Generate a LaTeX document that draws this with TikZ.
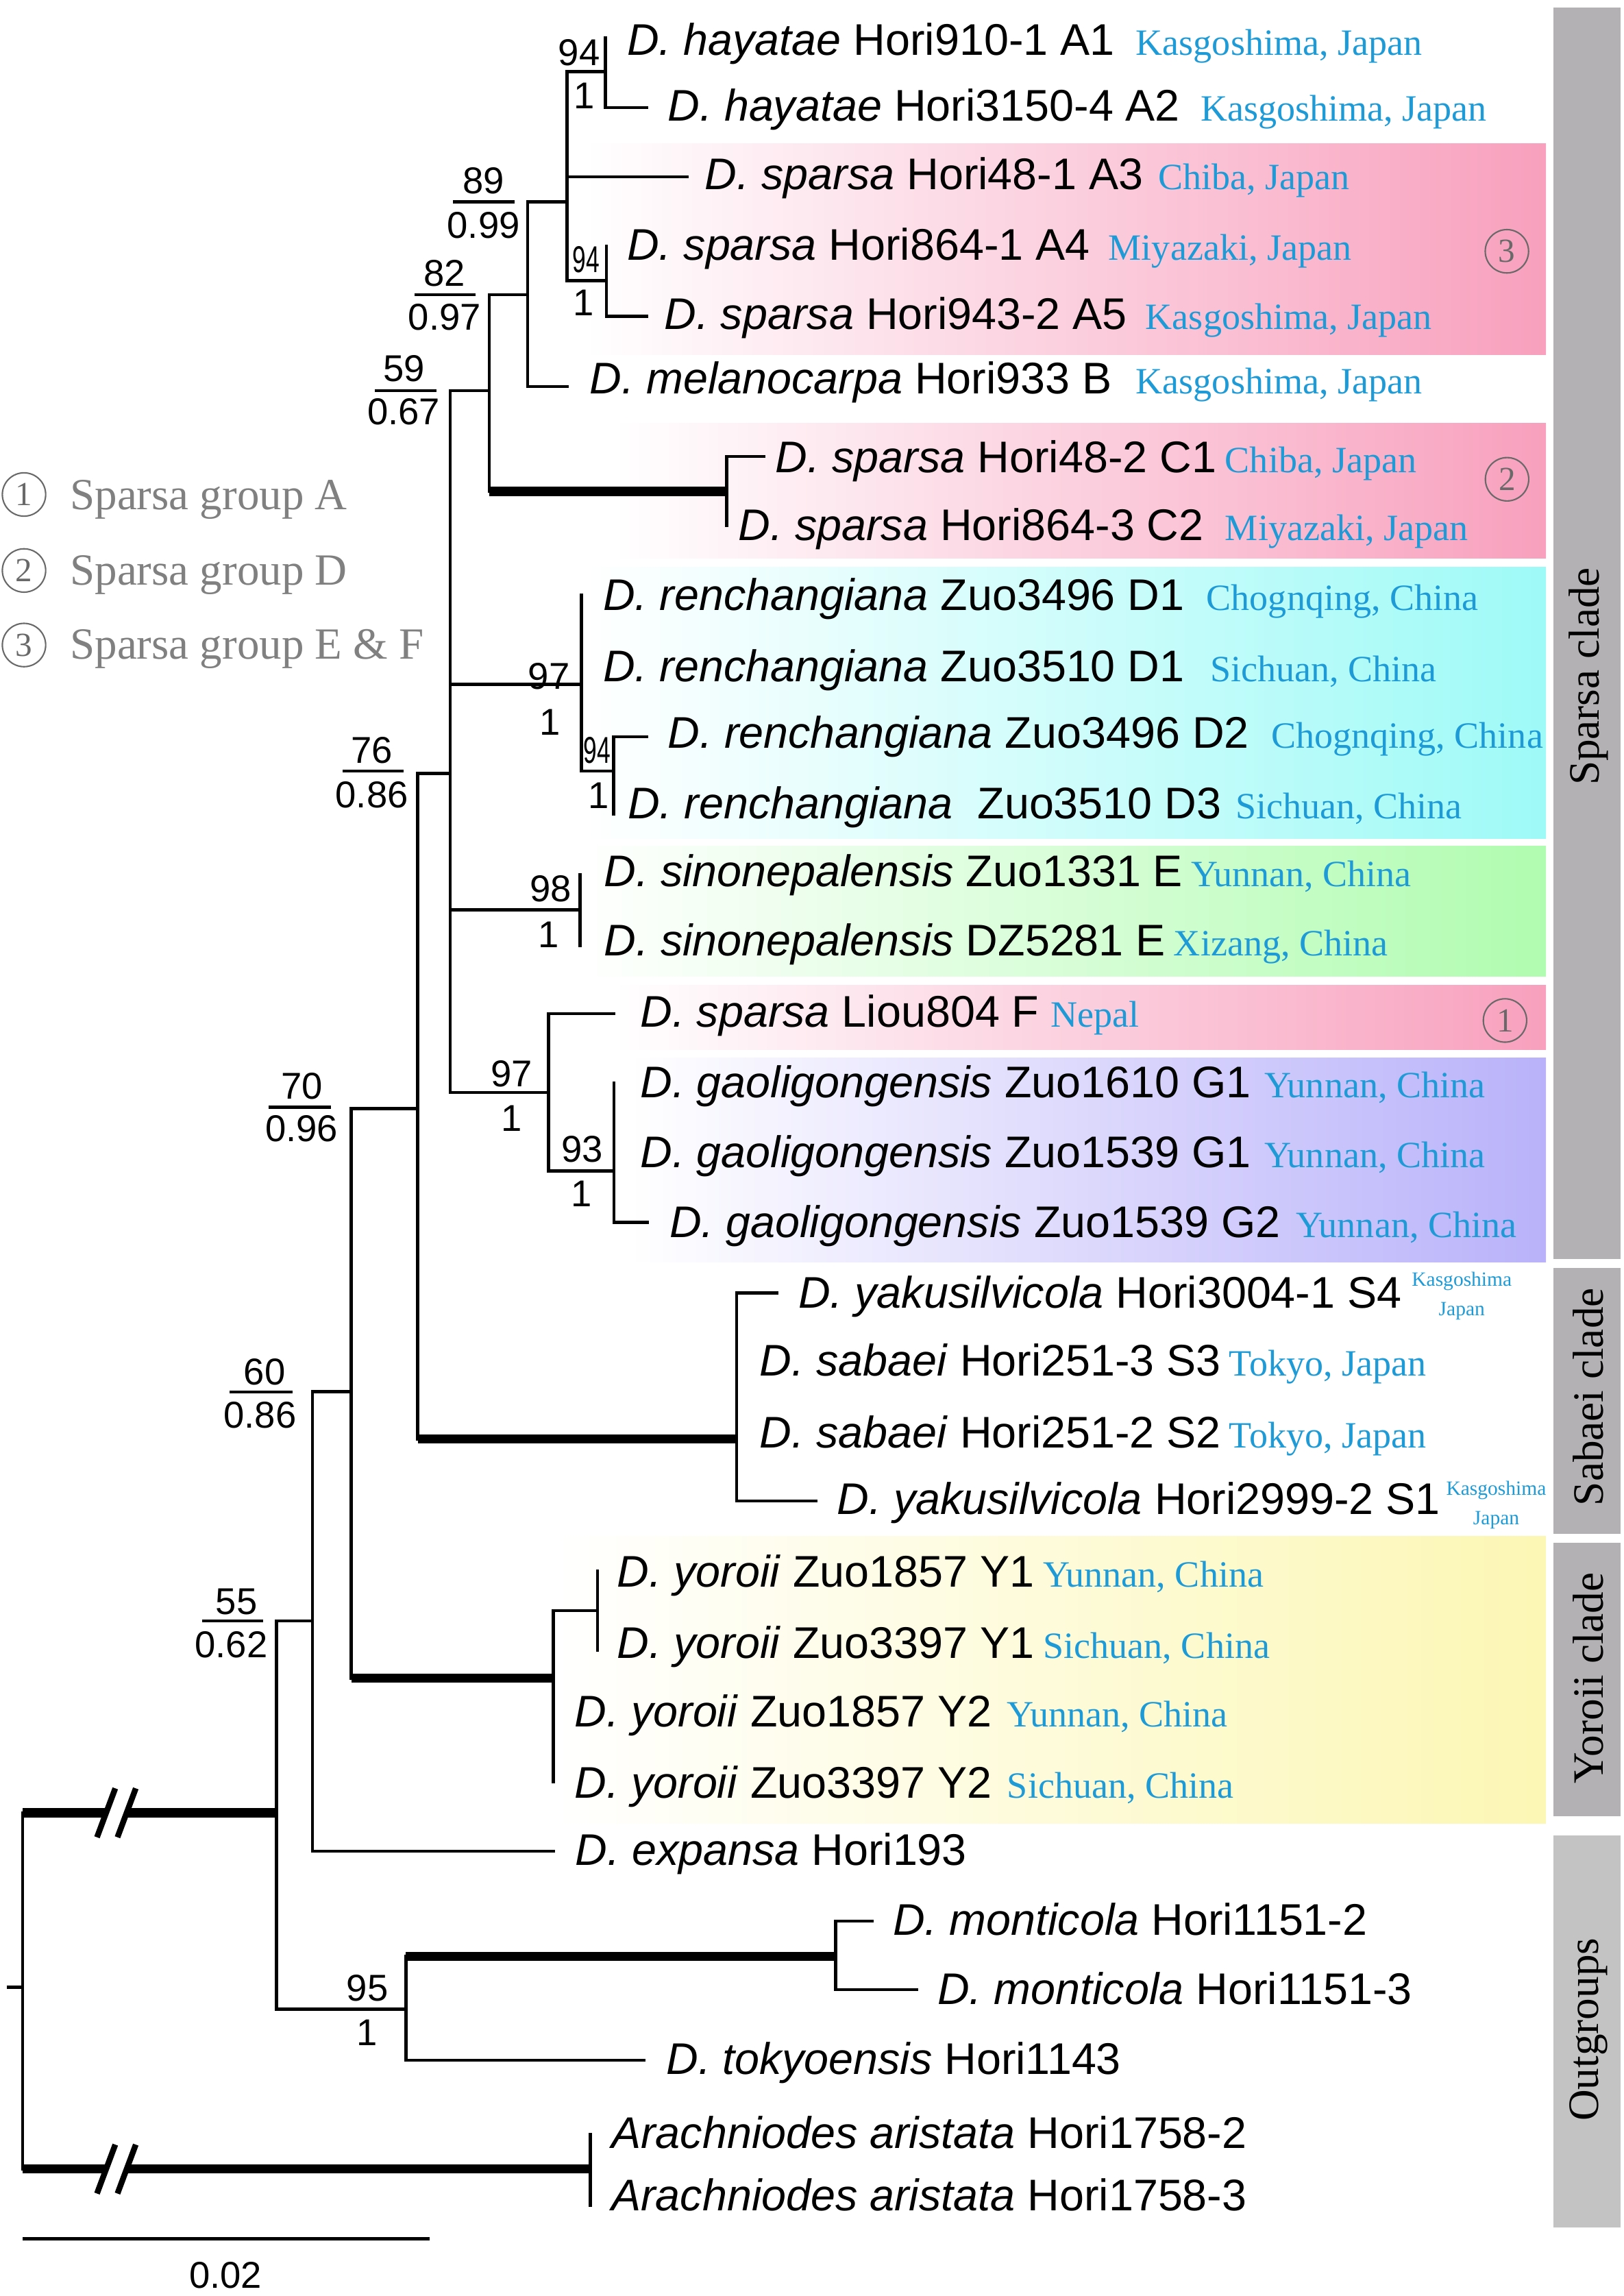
\documentclass[tikz,border=0pt]{standalone}
\usepackage{fontspec}
\setmainfont{Liberation Serif}
\newfontfamily\arialf{Liberation Sans}
\usetikzlibrary{calc}
\definecolor{locblue}{RGB}{30,155,215}
\definecolor{pinkc}{RGB}{248,160,189}
\definecolor{cyanc}{RGB}{158,250,247}
\definecolor{greenc}{RGB}{176,252,176}
\definecolor{purplec}{RGB}{185,178,250}
\definecolor{yellowc}{RGB}{252,247,180}
\definecolor{bargray}{RGB}{179,177,179}
\definecolor{bargrayb}{RGB}{195,195,195}
\definecolor{circgray}{RGB}{105,105,105}
\definecolor{leggray}{RGB}{128,128,128}
\newcommand\mytaxon[6]{%
  \node[tx] (#1) at (#2,#3) {#4};
  \path let \p1=(#1.base east) in node[loc] (#1loc) at ({max(\x1+3pt,#5*0.608035pt)},\y1) {#6};}
\begin{document}
\begin{tikzpicture}[x=0.2137mm,y=-0.2137mm,
  br/.style={line width=1.3pt,line cap=rect},
  thk/.style={line width=3.8pt},
  slash/.style={line width=2.4pt},
  tx/.style={anchor=base west,inner sep=0pt,font=\arialf\fontsize{18.4}{20}\selectfont},
  loc/.style={anchor=base west,inner sep=0pt,text=locblue,font=\fontsize{15.4}{17}\selectfont},
  locsmall/.style={anchor=base,inner sep=0pt,text=locblue,font=\fontsize{8.4}{9}\selectfont},
  supl/.style={inner sep=0pt,font=\arialf\fontsize{15.5}{17}\selectfont},
  circnum/.style={circle,draw=circgray,line width=0.6pt,minimum size=18pt,inner sep=0pt,text=circgray,font=\fontsize{14}{15}\selectfont},
  leg/.style={anchor=base west,inner sep=0pt,text=leggray,font=\fontsize{18.5}{20}\selectfont},
  cladel/.style={rotate=90,inner sep=0pt,font=\fontsize{18}{20}\selectfont},
  fbar/.style={line width=1.3pt}]
\useasboundingbox (0,0) rectangle (1109,1568);

% ---------- coloured boxes ----------
\shade[left color=white,right color=pinkc] (400,98.2) rectangle (1056,242.4);
\shade[left color=white,right color=pinkc] (420,289) rectangle (1056,381);
\shade[left color=white,right color=cyanc] (400,387.5) rectangle (1056,572.6);
\shade[left color=white,right color=greenc] (395,577.8) rectangle (1056,666.6);
\shade[left color=white,right color=pinkc] (420,673) rectangle (1056,716.8);
\shade[left color=white,right color=purplec] (430,722.4) rectangle (1056,862);
\shade[left color=white,right color=yellowc] (380,1049) rectangle (1056,1245.2);

% ---------- clade bars ----------
\fill[bargray] (1061,5) rectangle (1107,860);
\fill[bargray] (1061,866) rectangle (1107,1047.5);
\fill[bargray] (1061,1053.5) rectangle (1107,1240.5);
\fill[bargrayb] (1061,1253.5) rectangle (1107,1521);
\node[cladel] (lsp) at (1085,462) {Sparsa clade};
\node[cladel] (lsa) at (1085,954) {Sabaei clade};
\node[cladel] (lyo) at (1085,1146) {Yoroii clade};
\node[cladel] (lout) at (1085,1386) {Outgroups};

% ---------- coordinates ----------
\coordinate (tA1) at (413.6,26);
\coordinate (tA2) at (441.5,73.4);
\coordinate (tA3) at (469.5,120.7);
\coordinate (tA4) at (414.3,168);
\coordinate (tA5) at (441.5,216);
\coordinate (tB) at (387.4,264);
\coordinate (tC1) at (521.8,311.7);
\coordinate (tC2) at (496.5,359);
\coordinate (tD1a) at (397.2,406.5);
\coordinate (tD2) at (441.5,503.2);
\coordinate (tD3) at (419.2,556);
\coordinate (tE1) at (396.2,597.6);
\coordinate (tE2) at (396.2,645.8);
\coordinate (tF) at (419.3,692.3);
\coordinate (tG1a) at (419.3,739.7);
\coordinate (tG2) at (442.4,834.8);
\coordinate (tS4) at (530.5,883);
\coordinate (tS1) at (557.5,1025);
\coordinate (tY1a) at (408.2,1073);
\coordinate (tY1b) at (408.2,1127);
\coordinate (tY2b) at (378,1217);
\coordinate (tExp) at (378,1264.2);
\coordinate (tM1) at (595.5,1312);
\coordinate (tM2) at (626,1358.8);
\coordinate (tTok) at (440,1407);
\coordinate (tAr1) at (403.2,1457.6);
\coordinate (tAr2) at (403.2,1506);

\coordinate (nHay) at (413.6,49);
\coordinate (nA45) at (414.3,191.6);
\coordinate (nPoly) at (387.4,137.9);
\coordinate (n89) at (360.5,201.3);
\coordinate (nC) at (496.5,335.6);
\coordinate (n82) at (334.2,266.8);
\coordinate (nD23) at (419.2,526.5);
\coordinate (nD) at (397.2,467.4);
\coordinate (nE) at (396.2,621.3);
\coordinate (nG) at (419.3,799.7);
\coordinate (nFG) at (374.7,746);
\coordinate (n59) at (307.6,528.3);
\coordinate (nS) at (503.2,982.6);
\coordinate (n76) at (285.4,757);
\coordinate (nY1) at (408.2,1100);
\coordinate (nY) at (378,1146);
\coordinate (n70) at (240,950.5);
\coordinate (n60) at (213.4,1107);
\coordinate (nMont) at (570.8,1336);
\coordinate (n95) at (277.3,1372);
\coordinate (n55) at (188.9,1238);
\coordinate (nAr) at (403.2,1481.3);
\coordinate (root) at (15.5,1357);
\coordinate (rstub) at (5.7,1357);
\coordinate (bA1) at (72.5,1238);
\coordinate (bA2) at (86.5,1238);
\coordinate (bB1) at (72.5,1481.3);
\coordinate (bB2) at (86.5,1481.3);
\coordinate (sc1) at (15.5,1528.8);
\coordinate (sc2) at (293.5,1528.8);

% ---------- branches ----------
\draw[br] (nHay |- tA1) -- (nHay |- tA2) -- (tA2);
\draw[br] (nPoly |- nHay) -- (nHay);
\draw[br] (nPoly |- nHay) -- (nPoly |- nA45) -- (nA45);
\draw[br] (nPoly |- tA3) -- (tA3);
\draw[br] (nA45 |- tA4) -- (nA45 |- tA5) -- (tA5);
\draw[br] (n89 |- nPoly) -- (nPoly);
\draw[br] (n89 |- nPoly) -- (n89 |- tB) -- (tB);
\draw[br] (n82 |- n89) -- (n89);
\draw[br] (n82 |- n89) -- (n82 |- nC);
\draw[thk] (n82 |- nC) -- (nC);
\draw[br] (tC1) -- (nC |- tC1) -- (nC |- tC2);
\draw[br] (n59 |- n82) -- (n82);
\draw[br] (n59 |- n82) -- (n59 |- nFG);
\draw[br] (n59 |- nD) -- (nD);
\draw[br] (nD |- tD1a) -- (nD |- nD23) -- (nD23);
\draw[br] (tD2) -- (nD23 |- tD2) -- (nD23 |- tD3);
\draw[br] (n59 |- nE) -- (nE);
\draw[br] (nE |- tE1) -- (nE |- tE2);
\draw[br] (n59 |- nFG) -- (nFG);
\draw[br] (tF) -- (nFG |- tF) -- (nFG |- nG) -- (nG);
\draw[br] (nG |- tG1a) -- (nG |- tG2) -- (tG2);
\draw[br] (n76 |- n59) -- (n59);
\draw[br] (n76 |- n59) -- (n76 |- nS);
\draw[thk] (n76 |- nS) -- (nS);
\draw[br] (tS4) -- (nS |- tS4) -- (nS |- tS1) -- (tS1);
\draw[br] (n70 |- n76) -- (n76);
\draw[br] (n70 |- n76) -- (n70 |- nY);
\draw[thk] (n70 |- nY) -- (nY);
\draw[br] (nY1) -- (nY |- nY1) -- (nY |- tY2b);
\draw[br] (nY1 |- tY1a) -- (nY1 |- tY1b);
\draw[br] (n60 |- n70) -- (n70);
\draw[br] (n60 |- n70) -- (n60 |- tExp) -- (tExp);
\draw[br] (n55 |- n60) -- (n60);
\draw[br] (n55 |- n60) -- (n55 |- n95) -- (n95);
\draw[br] (n95 |- nMont) -- (n95 |- tTok) -- (tTok);
\draw[thk] (n95 |- nMont) -- (nMont);
\draw[br] (tM1) -- (nMont |- tM1) -- (nMont |- tM2) -- (tM2);
\draw[br] (root |- n55) -- (root |- nAr);
\draw[br] (rstub) -- (root);
\draw[thk] (root |- n55) -- (bA1);
\draw[thk] (bA2) -- (n55);
\draw[thk] (root |- nAr) -- (bB1);
\draw[thk] (bB2) -- (nAr);
\draw[br] (nAr |- tAr1) -- (nAr |- tAr2);
% break marks
\draw[slash] ($(bA1)+(-6.25,16.7)$) -- ($(bA1)+(6.25,-16.7)$);
\draw[slash] ($(bA2)+(-6.25,16.7)$) -- ($(bA2)+(6.25,-16.7)$);
\draw[slash] ($(bB1)+(-6.25,16.7)$) -- ($(bB1)+(6.25,-16.7)$);
\draw[slash] ($(bB2)+(-6.25,16.7)$) -- ($(bB2)+(6.25,-16.7)$);
% scale bar
\draw[line width=1.5pt] (sc1) -- (sc2);
\node[supl] (sclab) at (154,1554) {0.02};

% ---------- support values ----------
\node[supl] (s1a) at (395.6,35.8) {94};
\node[supl] (s1b) at (398.9,65.4) {1};
\node[supl] (s2a) at (330.3,123.6) {89};
\node[supl] (s2b) at (330.3,154) {0.99};
\draw[fbar] (309.6,137.9) -- (351.3,137.9);
\node[supl] (s3a) at (303.7,186.6) {82};
\node[supl] (s3b) at (303.7,216.7) {0.97};
\draw[fbar] (283,201.3) -- (325,201.3);
\node[supl] (s4a) at (276,251.8) {59};
\node[supl] (s4b) at (275.8,281.2) {0.67};
\draw[fbar] (256,266.8) -- (298,266.8);
\node[supl] (s5a) at (400.5,177.3) {\scalebox{0.65}[1]{94}};
\node[supl] (s5b) at (398.6,206.7) {1};
\node[supl] (s6a) at (375,462) {97};
\node[supl] (s6b) at (375.6,493.2) {1};
\node[supl] (s7a) at (407.7,512.2) {\scalebox{0.65}[1]{94}};
\node[supl] (s7b) at (408.7,543.3) {1};
\node[supl] (s8a) at (254,512.2) {76};
\node[supl] (s8b) at (254,543) {0.86};
\draw[fbar] (234,526.5) -- (275.8,526.5);
\node[supl] (s9a) at (376.2,607) {98};
\node[supl] (s9b) at (374.7,638.4) {1};
\node[supl] (s10a) at (349.5,733.3) {97};
\node[supl] (s10b) at (349.5,763.7) {1};
\node[supl] (s11a) at (397.8,785) {93};
\node[supl] (s11b) at (397,815.4) {1};
\node[supl] (s12a) at (206.3,741.6) {70};
\node[supl] (s12b) at (206,770.8) {0.96};
\draw[fbar] (183.7,756.2) -- (226.3,756.2);
\node[supl] (s13a) at (180.8,936.7) {60};
\node[supl] (s13b) at (177.6,966.4) {0.86};
\draw[fbar] (156.9,950.6) -- (199.8,950.6);
\node[supl] (s14a) at (161.5,1093.8) {55};
\node[supl] (s14b) at (157.9,1123) {0.62};
\draw[fbar] (137.9,1107) -- (179.8,1107);
\node[supl] (s15a) at (251,1357.5) {95};
\node[supl] (s15b) at (250.5,1388) {1};

% ---------- taxa ----------
\mytaxon{A1}{428}{37.7}{\textit{D. hayatae} Hori910-1 A1}{775.6}{Kasgoshima, Japan}
\mytaxon{A2}{455.8}{82.8}{\textit{D. hayatae} Hori3150-4 A2}{819.8}{Kasgoshima, Japan}
\mytaxon{A3}{481.2}{129.4}{\textit{D. sparsa} Hori48-1 A3}{790.8}{Chiba, Japan}
\mytaxon{A4}{428}{177.8}{\textit{D. sparsa} Hori864-1 A4}{756.9}{Miyazaki, Japan}
\mytaxon{A5}{453.4}{225}{\textit{D. sparsa} Hori943-2 A5}{782.2}{Kasgoshima, Japan}
\mytaxon{B}{402.6}{269}{\textit{D. melanocarpa} Hori933 B}{775.6}{Kasgoshima, Japan}
\mytaxon{C1}{529.5}{322.5}{\textit{D. sparsa} Hori48-2 C1}{836.5}{Chiba, Japan}
\mytaxon{C2}{504}{369}{\textit{D. sparsa} Hori864-3 C2}{836.5}{Miyazaki, Japan}
\mytaxon{D1a}{411.7}{416.9}{\textit{D. renchangiana} Zuo3496 D1}{823.8}{Chognqing, China}
\mytaxon{D1b}{411.7}{465.7}{\textit{D. renchangiana} Zuo3510 D1}{826.4}{Sichuan, China}
\mytaxon{D2}{455.8}{511}{\textit{D. renchangiana} Zuo3496 D2}{868}{Chognqing, China}
\mytaxon{D3}{428.5}{559}{\textit{D. renchangiana}\ \ Zuo3510 D3}{843.7}{Sichuan, China}
\mytaxon{E1}{412.3}{605.4}{\textit{D. sinonepalensis} Zuo1331 E}{804.5}{Yunnan, China}
\mytaxon{E2}{412.3}{652.6}{\textit{D. sinonepalensis} DZ5281 E}{793.8}{Xizang, China}
\mytaxon{F}{437}{701.5}{\textit{D. sparsa} Liou804 F}{717.4}{Nepal}
\mytaxon{G1a}{437}{749.6}{\textit{D. gaoligongensis} Zuo1610 G1}{863.6}{Yunnan, China}
\mytaxon{G1b}{437}{797.2}{\textit{D. gaoligongensis} Zuo1539 G1}{863.6}{Yunnan, China}
\mytaxon{G2}{457}{845}{\textit{D. gaoligongensis} Zuo1539 G2}{885.1}{Yunnan, China}
\node[tx] (S4) at (545,893.3) {\textit{D. yakusilvicola} Hori3004-1 S4};
\node[locsmall] (S4loca) at (998.5,878.5) {Kasgoshima};
\node[locsmall] (S4locb) at (998.5,898.5) {Japan};
\mytaxon{S3}{518.5}{939.6}{\textit{D. sabaei} Hori251-3 S3}{838}{Tokyo, Japan}
\mytaxon{S2}{518.5}{988.7}{\textit{D. sabaei} Hori251-2 S2}{839}{Tokyo, Japan}
\node[tx] (S1) at (571.4,1034.4) {\textit{D. yakusilvicola} Hori2999-2 S1};
\node[locsmall] (S1loca) at (1022,1021) {Kasgoshima};
\node[locsmall] (S1locb) at (1022,1041) {Japan};
\mytaxon{Y1a}{421.3}{1084}{\textit{D. yoroii} Zuo1857 Y1}{712.3}{Yunnan, China}
\mytaxon{Y1b}{421.3}{1132.4}{\textit{D. yoroii} Zuo3397 Y1}{712.3}{Sichuan, China}
\mytaxon{Y2a}{392.2}{1179.4}{\textit{D. yoroii} Zuo1857 Y2}{687.7}{Yunnan, China}
\mytaxon{Y2b}{392.2}{1227.8}{\textit{D. yoroii} Zuo3397 Y2}{687.7}{Sichuan, China}
\node[tx] (Exp) at (392.6,1273.8) {\textit{D. expansa} Hori193};
\node[tx] (M1) at (609.6,1321.5) {\textit{D. monticola} Hori1151-2};
\node[tx] (M2) at (640.1,1369) {\textit{D. monticola} Hori1151-3};
\node[tx] (Tok) at (454.8,1416.4) {\textit{D. tokyoensis} Hori1143};
\node[tx] (Ar1) at (417.3,1467) {\textit{Arachniodes aristata} Hori1758-2};
\node[tx] (Ar2) at (417.3,1509.7) {\textit{Arachniodes aristata} Hori1758-3};

% ---------- circled group numbers ----------
\node[circnum] (g3) at (1029.3,171.6) {3};
\node[circnum] (g2) at (1029.4,327.3) {2};
\node[circnum] (g1) at (1028,696.9) {1};

% ---------- legend ----------
\node[circnum] (lc1) at (16.4,337.7) {1};
\node[circnum] (lc2) at (16.4,389.6) {2};
\node[circnum] (lc3) at (16.4,440.5) {3};
\node[leg] (lt1) at (47.6,347.8) {Sparsa group A};
\node[leg] (lt2) at (47.6,399.7) {Sparsa group D};
\node[leg] (lt3) at (47.6,450.2) {Sparsa group E \& F};
\end{tikzpicture}
\end{document}
